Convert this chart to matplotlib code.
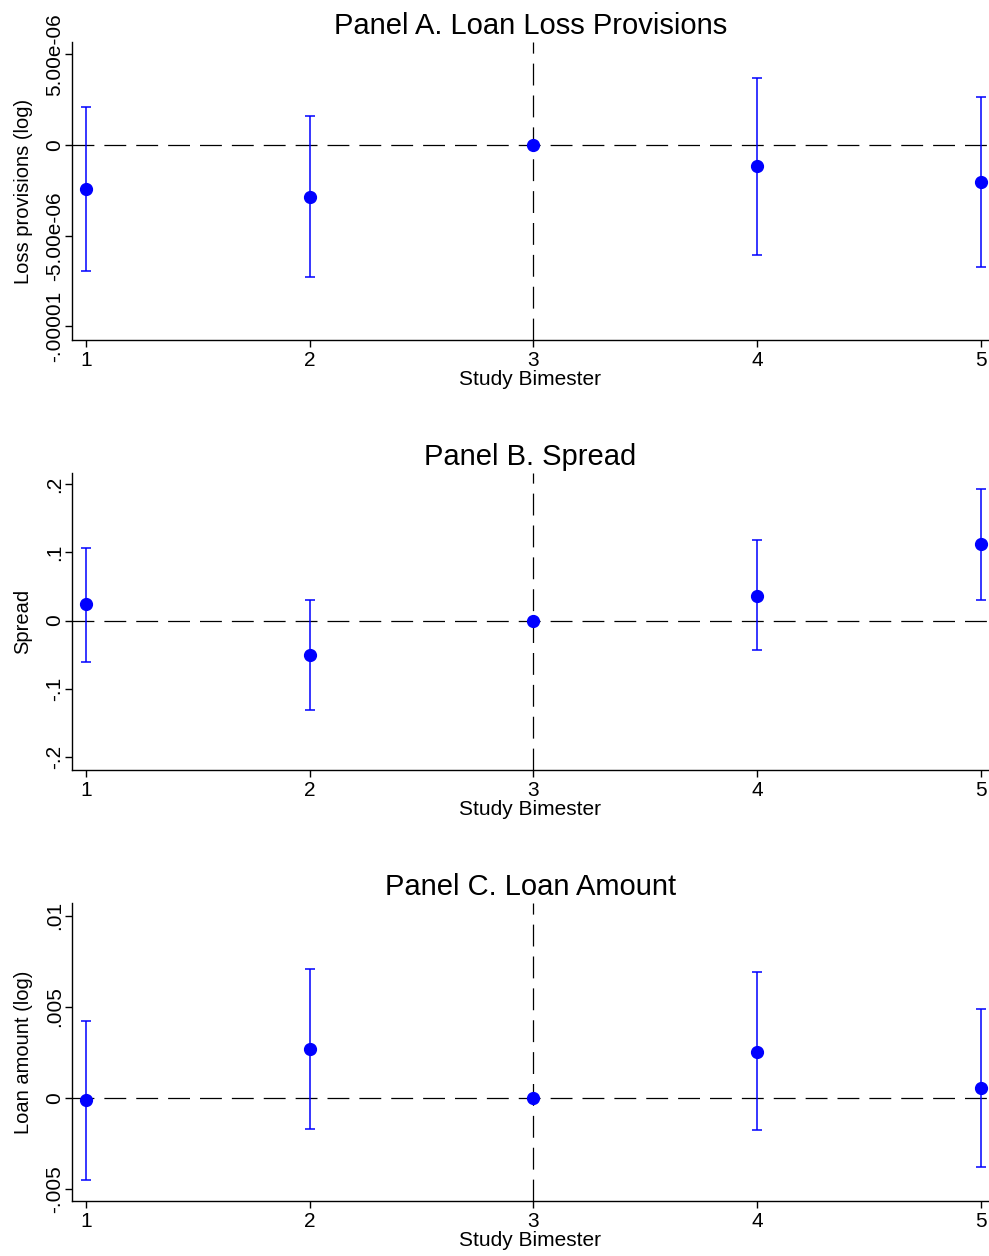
import numpy as np
import matplotlib
matplotlib.use("Agg")
import matplotlib.pyplot as plt

plt.rcParams['font.family'] = ['Liberation Sans', 'DejaVu Sans']

### Event-study estimates (coef, lower and upper CI)

bimester = [1, 2, 3, 4, 5]

loss_coef = [-2.41e-6, -2.85e-6, 0.0, -1.16e-6, -2.02e-6]
loss_lo = [-6.93e-6, -7.26e-6, 0.0, -6.06e-6, -6.71e-6]
loss_hi = [2.08e-6, 1.60e-6, 0.0, 3.71e-6, 2.66e-6]

spread_coef = [0.0245, -0.051, 0.0, 0.0367, 0.112]
spread_lo = [-0.060, -0.131, 0.0, -0.043, 0.030]
spread_hi = [0.107, 0.030, 0.0, 0.1185, 0.193]

amount_coef = [-0.00011, 0.00269, 0.0, 0.00254, 0.00057]
amount_lo = [-0.0045, -0.00167, 0.0, -0.00176, -0.00377]
amount_hi = [0.00425, 0.00709, 0.0, 0.0069, 0.00489]

loss_ticks = [5e-6, 0, -5e-6, -1e-5]
loss_ticklabels = ["5.00e-06", "0", "-5.00e-06", "-.00001"]
spread_ticks = [0.2, 0.1, 0, -0.1, -0.2]
spread_ticklabels = [".2", ".1", "0", "-.1", "-.2"]
amount_ticks = [0.01, 0.005, 0, -0.005]
amount_ticklabels = [".01", ".005", "0", "-.005"]

panels = [
    ("Panel A. Loan Loss Provisions", "Loss provisions (log)", loss_coef, loss_lo, loss_hi,
     loss_ticks, loss_ticklabels, (-10.75e-6, 5.68e-6)),
    ("Panel B. Spread", "Spread", spread_coef, spread_lo, spread_hi,
     spread_ticks, spread_ticklabels, (-0.2192, 0.2165)),
    ("Panel C. Loan Amount", "Loan amount (log)", amount_coef, amount_lo, amount_hi,
     amount_ticks, amount_ticklabels, (-0.00564, 0.0107)),
]

# axes boxes in figure fractions (left, bottom, width, height)
boxes = [
    [0.0728, 0.7293, 0.9272, 0.2373],
    [0.0728, 0.3869, 0.9272, 0.2365],
    [0.0728, 0.0438, 0.9272, 0.2373],
]

fig = plt.figure(figsize=(9.89, 12.56), dpi=100)

for (title, ylab, coef, lo, hi, ticks, ticklabels, ylim), box in zip(panels, boxes):
    ax = fig.add_axes(box)
    coef = np.array(coef)
    lo = np.array(lo)
    hi = np.array(hi)
    x = np.array(bimester)

    ax.axhline(0, color='black', lw=0.9, dashes=(17.5, 8), zorder=1)
    ax.axvline(3, color='black', lw=0.9, dashes=(17.5, 8), zorder=1)

    has_ci = hi > lo
    ax.errorbar(x[has_ci], coef[has_ci], yerr=[coef[has_ci] - lo[has_ci], hi[has_ci] - coef[has_ci]],
                fmt='none', ecolor='#0000ff', elinewidth=1.1, capsize=3.6, capthick=1.1, zorder=2)
    ax.plot(x, coef, 'o', color='#0000ff', markersize=8.5, zorder=3)

    ax.set_xlim(0.9374, 5.037)
    ax.set_ylim(*ylim)
    ax.set_xticks(bimester)
    ax.set_yticks(ticks)
    ax.set_yticklabels(ticklabels)
    for lab in ax.get_yticklabels():
        lab.set_rotation(90)
        lab.set_va('center')

    for side in ['top', 'right']:
        ax.spines[side].set_visible(False)
    for side in ['left', 'bottom']:
        ax.spines[side].set_linewidth(1.0)
    ax.tick_params(axis='both', length=5, width=1.0, labelsize=15, color='black')
    ax.tick_params(axis='x', pad=3)
    ax.tick_params(axis='y', pad=1)

    ax.set_title(title, fontsize=21, pad=6)
    ax.set_xlabel("Study Bimester", fontsize=15, labelpad=0)
    ax.set_ylabel(ylab, fontsize=14.5)
    ax.yaxis.set_label_coords(-0.043, 0.5)

plt.savefig('out.png', dpi=100)
